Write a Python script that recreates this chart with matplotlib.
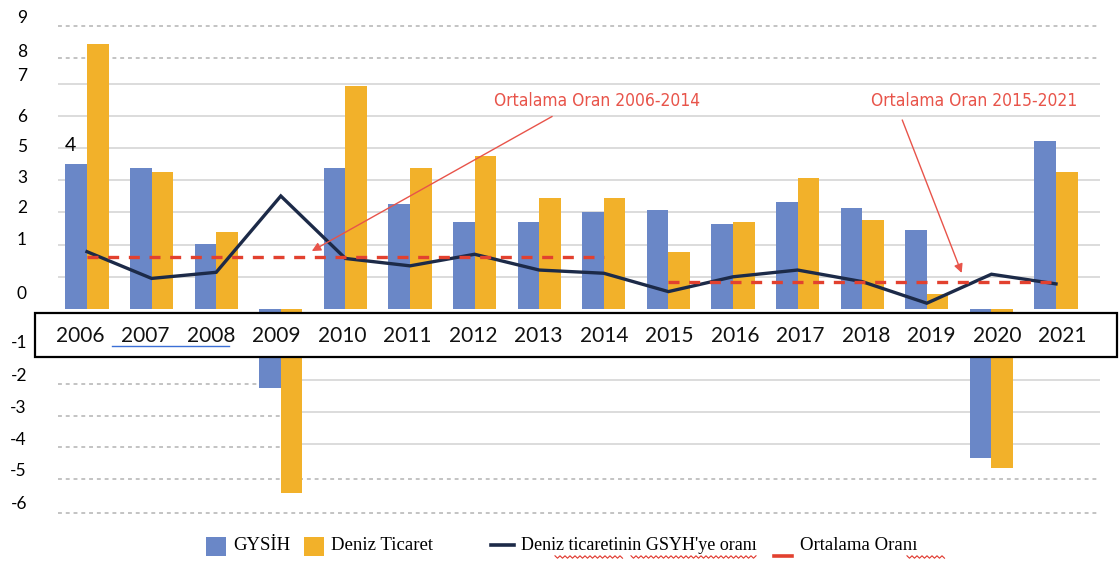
import numpy as np
import matplotlib
matplotlib.use("Agg")
import matplotlib.pyplot as plt
from matplotlib.patches import Rectangle
from matplotlib.lines import Line2D
from matplotlib import font_manager as fm

# ---------------- data ----------------
years = [2006, 2007, 2008, 2009, 2010, 2011, 2012, 2013, 2014,
         2015, 2016, 2017, 2018, 2019, 2020, 2021]
gysih = [4.50, 4.37, 2.01, -2.46, 4.37, 3.25, 2.69, 2.69, 3.00,
         3.07, 2.63, 3.31, 3.13, 2.44, -4.64, 5.23]
deniz = [8.23, 4.24, 2.38, -5.70, 6.93, 4.37, 4.75, 3.44, 3.44,
         1.76, 2.69, 4.06, 2.76, 0.46, -4.95, 4.24]
oran = [1.78, 0.95, 1.14, 3.51, 1.57, 1.34, 1.70, 1.21, 1.11,
        0.54, 1.00, 1.21, 0.85, 0.18, 1.08, 0.78]
avg_periods = [(2006, 2014), (2015, 2021)]
avg_values = [1.62, 0.83]
avg_labels = ["Ortalama Oran 2006-2014", "Ortalama Oran 2015-2021"]
ytick_labels = ["9", "8", "7", "6", "5", "3", "2", "1", "0",
                "-1", "-2", "-3", "-4", "-5", "-6"]
ytick_values = [9.07, 8.04, 7.27, 6.02, 5.09, 4.10, 3.17, 2.20, 0.50,
                -1.02, -2.02, -3.02, -4.01, -5.00, -6.02]
first_label = "4"
legend_labels = ["GYSİH", "Deniz Ticaret", "Deniz ticaretinin GSYH'ye oranı", "Ortalama Oranı"]

# ---------------- fonts ----------------
def has_font(name):
    try:
        fm.findfont(fm.FontProperties(family=name), fallback_to_default=False)
        return True
    except Exception:
        return False

sans = "Lato" if has_font("Lato") else "DejaVu Sans"
serif = "Liberation Serif" if has_font("Liberation Serif") else "DejaVu Serif"
cond = "DejaVu Sans"
try:
    p = fm.findfont(fm.FontProperties(family="DejaVu Sans", stretch="condensed"))
    cond_stretch = "condensed" if "Condensed" in p else "normal"
except Exception:
    cond_stretch = "normal"

# ---------------- colours ----------------
c_blue = "#6a87c7"
c_orange = "#f2b12a"
c_navy = "#1c2a48"
c_red = "#e2412f"
c_ann = "#e8544a"
c_grid = "#d9d9d9"
c_dot = "#c3c3c3"

W, H = 1120, 563
fig = plt.figure(figsize=(W / 100, H / 100), dpi=100)
AX_L, AX_R, AX_T, AX_B = 55, 1105, 10, 520
ax = fig.add_axes([AX_L / W, 1 - AX_B / H, (AX_R - AX_L) / W, (AX_B - AX_T) / H])

X0, DX = 87, 64.6      # pixel centre of first group, group spacing
Y0, DY = 309, 32.2     # pixel of zero, pixels per unit
ax.set_xlim((AX_L - X0) / DX, (AX_R - X0) / DX)
ax.set_ylim((Y0 - AX_B) / DY, (Y0 - AX_T) / DY)

def px2ax(px, py):
    return (px - AX_L) / (AX_R - AX_L), (AX_B - py) / (AX_B - AX_T)

def px2fig(px, py):
    return px / W, 1 - py / H

x = np.arange(len(years))
xg0, xg1 = (58 - X0) / DX, (1100 - X0) / DX

# ---------------- grid ----------------
for v in [1, 2, 3, 4, 5, 6, 7]:
    ax.hlines(v, xg0, xg1, color=c_grid, lw=1.3, zorder=0)
for v in [8.8, 7.8, -5.28, -6.34]:
    ax.hlines(v, xg0, xg1, color=c_dot, lw=1.4, ls=(0, (2, 2)), zorder=0)
for v in [-2.2, -3.2, -4.2]:
    ax.hlines(v, (302 - X0) / DX, xg1, color=c_grid, lw=1.3, zorder=0)
for v in [-2.32, -3.32, -4.3]:
    ax.hlines(v, xg0, (280 - X0) / DX, color=c_dot, lw=1.4, ls=(0, (2, 2)), zorder=0)

# ---------------- bars ----------------
bw = 0.333
ax.bar(x - bw / 2, gysih, bw, color=c_blue, zorder=2, linewidth=0)
ax.bar(x + bw / 2, deniz, bw, color=c_orange, zorder=2, linewidth=0)

# ---------------- line + averages ----------------
ax.plot(x, oran, color=c_navy, lw=2.4, zorder=5, solid_joinstyle="miter")
for (a, b), v in zip(avg_periods, avg_values):
    i0, i1 = years.index(a), years.index(b)
    ax.plot([x[i0], x[i1]], [v, v], color=c_red, lw=2.4,
            ls=(0, (3.3, 2.9)), zorder=6)

# data label
ax.text(x[0] - 0.25, 5.09, first_label, ha="center", va="center",
        fontsize=14, family=sans, color="black", zorder=7)

# ---------------- annotations ----------------
ann_text_pos = [(7.89, 6.46), (13.73, 6.46)]
ann_start = [(7.20, 5.98), (12.62, 5.87)]
ann_tip = [(3.48, 1.80), (13.54, 1.12)]
for lab, tp, st, tip in zip(avg_labels, ann_text_pos, ann_start, ann_tip):
    ax.text(tp[0], tp[1], lab, ha="center", va="center", color=c_ann,
            fontsize=12.5 if cond_stretch == "condensed" else 11.5,
            family=cond, fontstretch=cond_stretch, zorder=8)
    ax.annotate("", xy=tip, xytext=st,
                arrowprops=dict(arrowstyle="-|>", color=c_ann, lw=1.0,
                                mutation_scale=13, shrinkA=0, shrinkB=0),
                zorder=8)

# ---------------- y tick labels ----------------
ax.set_yticks(ytick_values)
ax.set_yticklabels(ytick_labels, family=sans, fontsize=12.5)
ax.tick_params(axis="y", length=0, pad=(AX_L - 27) * 0.72)
ax.set_xticks([])
for s in ax.spines.values():
    s.set_visible(False)

# ---------------- year box ----------------
bx0, by0 = px2ax(35, 357)
bx1, by1 = px2ax(1117, 313)
ax.add_patch(Rectangle((bx0, by0), bx1 - bx0, by1 - by0, transform=ax.transAxes,
                       facecolor="white", edgecolor="black", lw=1.6,
                       clip_on=False, zorder=20))
yl = (Y0 - 336) / DY
for i, yr in enumerate(years):
    ax.text(i * 1.0139 - 0.108, yl, str(yr), ha="center", va="center",
            fontsize=15, family=sans, color="#111111", zorder=21, clip_on=False)
ux0, uy = px2ax(112, 346)
ux1, _ = px2ax(229, 346)
ax.add_line(Line2D([ux0, ux1], [uy, uy], transform=ax.transAxes, color="#3b6fd6",
                   lw=1.0, clip_on=False, zorder=22))

# ---------------- legend (manual) ----------------
ly = 546
def fig_rect(px0, py0, px1, py1, color):
    fx0, fy0 = px2fig(px0, py1)
    fx1, fy1 = px2fig(px1, py0)
    fig.add_artist(Rectangle((fx0, fy0), fx1 - fx0, fy1 - fy0,
                             transform=fig.transFigure, color=color, lw=0))

fig_rect(206, 537, 226, 556, c_blue)
fig.text(*px2fig(233, ly), legend_labels[0], family=serif, fontsize=13.5,
         va="center", ha="left")
fig_rect(304, 537, 324, 556, c_orange)
fig.text(*px2fig(331, ly), legend_labels[1], family=serif, fontsize=13.5,
         va="center", ha="left")
fig.add_artist(Line2D([491 / W, 514 / W], [1 - 545 / H] * 2, transform=fig.transFigure,
                      color=c_navy, lw=2.6))
fig.text(*px2fig(521, ly), legend_labels[2], family=serif, fontsize=13,
         va="center", ha="left")
fig.add_artist(Line2D([774 / W, 792 / W], [1 - 556 / H] * 2, transform=fig.transFigure,
                      color=c_red, lw=2.6))
fig.text(*px2fig(800, ly), legend_labels[3], family=serif, fontsize=13.5,
         va="center", ha="left")

def wavy(px0, px1, py):
    xs = np.arange(px0, px1 + 0.1, 2.5)
    ys = py + np.where(np.arange(len(xs)) % 2 == 0, -1.2, 1.2)
    fig.add_artist(Line2D(xs / W, 1 - ys / H, transform=fig.transFigure,
                          color="#e0362c", lw=0.8))

wavy(555, 624, 557)
wavy(631, 757, 557)
wavy(907, 945, 557)

fig.savefig("out.png", dpi=100, facecolor="white")
